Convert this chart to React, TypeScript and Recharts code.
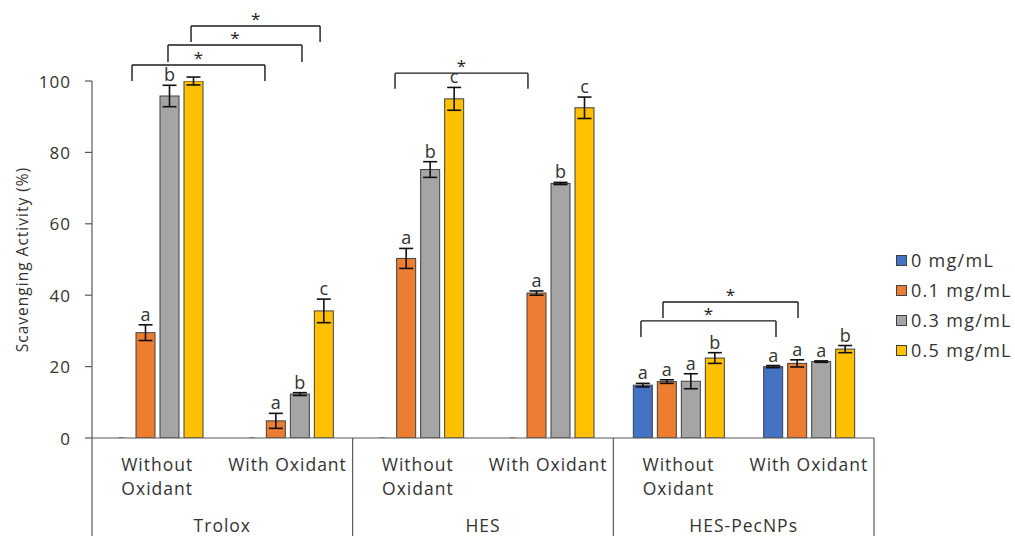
import React from 'react';
import {
  BarChart, Bar, XAxis, YAxis, ErrorBar, LabelList, Legend, ReferenceLine, ReferenceDot,
} from 'recharts';

// ---------- data ----------
const categories = ['Without Oxidant', 'With Oxidant', 'Without Oxidant', 'With Oxidant', 'Without Oxidant', 'With Oxidant'];
const tickLines = [['Without', 'Oxidant'], ['With Oxidant'], ['Without', 'Oxidant'], ['With Oxidant'], ['Without', 'Oxidant'], ['With Oxidant']];
const groups = ['Trolox', 'HES', 'HES-PecNPs'];
const seriesNames = ['0 mg/mL', '0.1 mg/mL', '0.3 mg/mL', '0.5 mg/mL'];

const s0 = [0, 0, 0, 0, 14.8, 20.0];
const s0err = [0, 0, 0, 0, 0.5, 0.3];
const s0letters = ['', '', '', '', 'a', 'a'];

const s1 = [29.5, 4.8, 50.3, 40.6, 15.8, 20.9];
const s1err = [2.2, 2.1, 2.8, 0.6, 0.5, 1.0];
const s1letters = ['a', 'a', 'a', 'a', 'a', 'a'];

const s2 = [95.8, 12.3, 75.2, 71.3, 15.9, 21.4];
const s2err = [3.0, 0.4, 2.2, 0.3, 2.1, 0.2];
const s2letters = ['b', 'b', 'b', 'b', 'a', 'a'];

const s3 = [100, 35.6, 95.0, 92.5, 22.4, 24.9];
const s3err = [1.1, 3.3, 3.2, 3.0, 1.5, 1.0];
const s3letters = ['', 'c', 'c', 'c', 'b', 'b'];

const yTicks = [0, 20, 40, 60, 80, 100];

// significance brackets (x in category units 0..6, y in % units)
const bracketX1 = [0.307, 0.583, 0.76, 2.325, 4.212, 4.381];
const bracketX2 = [1.327, 1.611, 1.75, 3.345, 5.248, 5.417];
const bracketTop = [104.5, 110.1, 115.4, 102.2, 32.8, 38.1];
const bracketLeg = [100, 105.3, 110.9, 97.8, 28.3, 33.6];

const groupEdges = [0, 2, 4, 6];

// ---------- styles ----------
const FONT = "'Open Sans', sans-serif";
const TEXT = '#333333';
const colors = ['#4472C4', '#ED7D31', '#A5A5A5', '#FFC000'];
const BAR_STROKE = '#404040';
const AXIS = '#595959';

const values = [s0, s1, s2, s3];
const errs = [s0err, s1err, s2err, s3err];
const letters = [s0letters, s1letters, s2letters, s3letters];

const rows = categories.map((c, i) => ({
  id: String(i),
  pos: i + 0.5,
  cat: c,
  v0: s0[i], e0: s0err[i], l0: s0letters[i],
  v1: s1[i], e1: s1err[i], l1: s1letters[i],
  v2: s2[i], e2: s2err[i], l2: s2letters[i],
  v3: s3[i], e3: s3err[i], l3: s3letters[i],
}));

const makeLetter = (k: number) => (props: any) => {
  const { x, y, width, height, index } = props;
  const letter = letters[k][index];
  const v = values[k][index];
  if (!letter || !v) return null;
  const pxPerUnit = Number(height) / v;
  const top = Number(y) - errs[k][index] * pxPerUnit;
  return (
    <text x={Number(x) + Number(width) / 2} y={top - 4} textAnchor="middle" fontSize={18}
      fontFamily={FONT} fill={TEXT}>{letter}</text>
  );
};

const BarShape = (props: any) => {
  const { x, y, width, height, fill } = props;
  if (!height || Math.abs(height) < 0.5) {
    const cx = x + width / 2;
    return <line x1={cx - 3} x2={cx + 3} y1={y} y2={y} stroke="#666" strokeWidth={1.2} />;
  }
  return <rect x={x} y={y} width={width} height={height} fill={fill} stroke={BAR_STROKE} strokeWidth={1} />;
};

const CatTick = (props: any) => {
  const { x, y, index, payload } = props;
  const half = payload && typeof payload.offset === 'number' && payload.offset > 0 ? payload.offset : 65;
  const lines = tickLines[index] || [];
  return (
    <g>
      {lines.map((ln: string, j: number) => (
        <text key={j} x={x} y={y + 26 + j * 24} textAnchor="middle" dominantBaseline="central"
          fontSize={17.5} letterSpacing={1} fontFamily={FONT} fill={TEXT}>{ln}</text>
      ))}
      {index % 2 === 0 && (
        <text x={x + half} y={y + 87} textAnchor="middle" dominantBaseline="central"
          fontSize={17.5} letterSpacing={1} fontFamily={FONT} fill={TEXT}>{groups[index / 2]}</text>
      )}
    </g>
  );
};

const YTick = (props: any) => {
  const { x, y, payload } = props;
  return (
    <text x={x} y={y} textAnchor="end" dominantBaseline="central" fontSize={17}
      letterSpacing={1} fontFamily={FONT} fill={TEXT}>{payload.value}</text>
  );
};

const LegendContent = () => (
  <div style={{ fontFamily: FONT, fontSize: 18, letterSpacing: 1.3, color: TEXT }}>
    {seriesNames.map((n, i) => (
      <div key={n} style={{ display: 'flex', alignItems: 'center', height: 30, whiteSpace: 'nowrap' }}>
        <span style={{ display: 'inline-block', width: 9, height: 9, background: colors[i],
          border: `1px solid ${BAR_STROKE}`, marginRight: 4 }} />
        <span>{n}</span>
      </div>
    ))}
  </div>
);

const YLabel = (props: any) => {
  const vb = props.viewBox || { x: 0, y: 81, width: 92, height: 357 };
  const cx = vb.x + 22;
  const cy = vb.y + vb.height / 2;
  return (
    <text x={cx} y={cy} transform={`rotate(-90, ${cx}, ${cy})`} textAnchor="middle"
      dominantBaseline="central" fontSize={15.5} letterSpacing={1} fontFamily={FONT} fill={TEXT}>
      Scavenging Activity (%)
    </text>
  );
};

export default function App() {
  const brackets = bracketX1.map((x1, i) => ({ x1, x2: bracketX2[i], top: bracketTop[i], leg: bracketLeg[i] }));
  return (
    <div style={{ position: 'absolute', left: 0, top: 0, width: 1015, height: 536, background: '#fff' }}>
      <BarChart width={1015} height={536} data={rows}
        margin={{ top: 81, right: 141, bottom: 0, left: 0 }}
        barSize={19} barGap={5}>
        <XAxis dataKey="id" type="category" interval={0} height={98} tickSize={0} tickMargin={0}
          tickLine={false} axisLine={{ stroke: AXIS, strokeWidth: 1.2 }} tick={<CatTick />} />
        <XAxis xAxisId="n" dataKey="pos" type="number" domain={[0, 6]} hide allowDataOverflow />
        <YAxis domain={[0, 100]} ticks={yTicks} allowDataOverflow width={92}
          tickSize={7} tickMargin={14} tick={<YTick />}
          tickLine={{ stroke: AXIS, strokeWidth: 1.2 }} axisLine={{ stroke: AXIS, strokeWidth: 1.2 }}
          label={<YLabel />} />
        <Legend layout="horizontal" verticalAlign="middle" align="center"
          wrapperStyle={{ left: 896, top: 245, width: 119, height: 120 }}
          content={<LegendContent />} />
        {[0, 1, 2, 3].map((k) => (
          <Bar key={k} dataKey={`v${k}`} name={seriesNames[k]} fill={colors[k]} stroke={BAR_STROKE}
            strokeWidth={1} isAnimationActive={false} shape={<BarShape />}>
            <ErrorBar dataKey={`e${k}`} width={7} stroke="#111" strokeWidth={1.6} />
            <LabelList dataKey={`l${k}`} content={makeLetter(k)} />
          </Bar>
        ))}
        {groupEdges.map((gx) => (
          <ReferenceLine key={`g${gx}`} xAxisId="n" ifOverflow="visible" stroke={AXIS} strokeWidth={1.2}
            segment={[{ x: gx, y: 0 }, { x: gx, y: -30 }]} />
        ))}
        {brackets.map((b, i) => (
          <ReferenceLine key={`bt${i}`} xAxisId="n" ifOverflow="visible" stroke="#1a1a1a" strokeWidth={1.4}
            segment={[{ x: b.x1, y: b.top }, { x: b.x2, y: b.top }]} />
        ))}
        {brackets.map((b, i) => (
          <ReferenceLine key={`bl${i}`} xAxisId="n" ifOverflow="visible" stroke="#1a1a1a" strokeWidth={1.4}
            segment={[{ x: b.x1, y: b.top }, { x: b.x1, y: b.leg }]} />
        ))}
        {brackets.map((b, i) => (
          <ReferenceLine key={`br${i}`} xAxisId="n" ifOverflow="visible" stroke="#1a1a1a" strokeWidth={1.4}
            segment={[{ x: b.x2, y: b.top }, { x: b.x2, y: b.leg }]} />
        ))}
        {brackets.map((b, i) => (
          <ReferenceDot key={`s${i}`} xAxisId="n" ifOverflow="visible" x={(b.x1 + b.x2) / 2} y={b.top}
            r={0} fill="none" stroke="none"
            label={{ value: '*', position: 'top', offset: 1, fontSize: 17, fill: '#222', fontFamily: FONT }} />
        ))}
      </BarChart>
    </div>
  );
}
